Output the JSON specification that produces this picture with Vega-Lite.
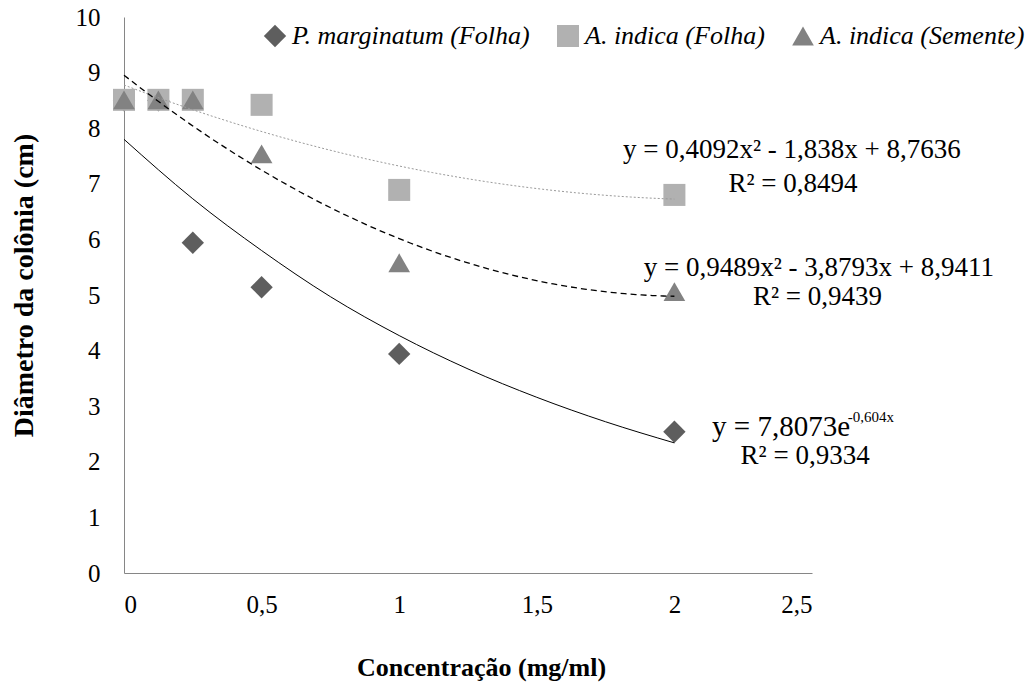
{
  "$schema": "https://vega.github.io/schema/vega-lite/v6.json",
  "autosize": {"type": "none"},
  "width": 688,
  "height": 556,
  "padding": {"left": 124, "top": 17, "right": 219, "bottom": 113},
  "background": "white",
  "config": {
    "view": {"stroke": null},
    "font": "Times New Roman",
    "axis": {
      "grid": false,
      "ticks": false,
      "domainColor": "#868686",
      "domainWidth": 1,
      "labelFont": "Times New Roman",
      "labelFontSize": 25,
      "labelColor": "#000000",
      "titleFont": "Times New Roman",
      "titleFontWeight": "bold",
      "titleColor": "#000000"
    },
    "legend": {
      "labelFont": "Times New Roman"
    }
  },
  "datasets": {
    "pts": [
      {"series": "P. marginatum (Folha)", "x": 0, "y": 8.5},
      {"series": "P. marginatum (Folha)", "x": 0.125, "y": 8.5},
      {"series": "P. marginatum (Folha)", "x": 0.25, "y": 5.94},
      {"series": "P. marginatum (Folha)", "x": 0.5, "y": 5.14},
      {"series": "P. marginatum (Folha)", "x": 1, "y": 3.94},
      {"series": "P. marginatum (Folha)", "x": 2, "y": 2.54},
      {"series": "A. indica (Folha)", "x": 0, "y": 8.51},
      {"series": "A. indica (Folha)", "x": 0.125, "y": 8.51},
      {"series": "A. indica (Folha)", "x": 0.25, "y": 8.51},
      {"series": "A. indica (Folha)", "x": 0.5, "y": 8.42},
      {"series": "A. indica (Folha)", "x": 1, "y": 6.89},
      {"series": "A. indica (Folha)", "x": 2, "y": 6.8},
      {"series": "A. indica (Semente)", "x": 0, "y": 8.51},
      {"series": "A. indica (Semente)", "x": 0.125, "y": 8.51},
      {"series": "A. indica (Semente)", "x": 0.25, "y": 8.51},
      {"series": "A. indica (Semente)", "x": 0.5, "y": 7.54},
      {"series": "A. indica (Semente)", "x": 1, "y": 5.58},
      {"series": "A. indica (Semente)", "x": 2, "y": 5.06}
    ],
    "expTrend": [
      {"x": 0, "y": 7.8},
      {"x": 0.25, "y": 6.73},
      {"x": 0.5, "y": 5.8},
      {"x": 0.75, "y": 4.97},
      {"x": 1, "y": 4.27},
      {"x": 1.25, "y": 3.67},
      {"x": 1.5, "y": 3.16},
      {"x": 1.75, "y": 2.72},
      {"x": 2, "y": 2.34}
    ],
    "eqs": [
      {"x": 2.427, "y": 7.61, "label": "y = 0,4092x² - 1,838x + 8,7636"},
      {"x": 2.431, "y": 7.0, "label": "R² = 0,8494"},
      {"x": 2.525, "y": 5.48, "label": "y = 0,9489x² - 3,8793x + 8,9411"},
      {"x": 2.52, "y": 4.97, "label": "R² = 0,9439"},
      {"x": 2.475, "y": 2.1, "label": "R² = 0,9334"}
    ],
    "eqLeft": [
      {"x": 2.137, "y": 2.62, "label": "y = 7,8073e"}
    ],
    "eqSup": [
      {"x": 2.63, "y": 2.8, "label": "-0,604x"}
    ]
  },
  "layer": [
    {
      "data": {"name": "pts"},
      "mark": {"type": "point", "filled": true, "opacity": 1},
      "encoding": {
        "x": {
          "field": "x", "type": "quantitative",
          "scale": {"domain": [0, 2.5], "nice": false, "zero": true},
          "axis": {
            "title": "Concentração (mg/ml)",
            "titleFontSize": 26,
            "titleX": 357,
            "labelFont": "Times New Roman",
            "titleFont": "Times New Roman",
            "values": [0, 0.5, 1, 1.5, 2, 2.5],
            "labelExpr": "replace(format(datum.value, '~g'), '.', ',')",
            "labelPadding": 19,
            "titlePadding": 37
          }
        },
        "y": {
          "field": "y", "type": "quantitative",
          "scale": {"domain": [0, 10], "nice": false},
          "axis": {
            "title": "Diâmetro da colônia (cm)",
            "titleFontSize": 28,
            "titleY": 268,
            "labelFont": "Times New Roman",
            "titleFont": "Times New Roman",
            "values": [0, 1, 2, 3, 4, 5, 6, 7, 8, 9, 10],
            "labelPadding": 24,
            "titlePadding": 37
          }
        },
        "color": {
          "field": "series", "type": "nominal",
          "scale": {
            "domain": ["P. marginatum (Folha)", "A. indica (Folha)", "A. indica (Semente)"],
            "range": ["#5e5e5e", "#b1b1b1", "#828282"]
          },
          "legend": {
            "title": null,
            "orient": "none",
            "direction": "horizontal",
            "legendX": 138,
            "legendY": 6,
            "symbolSize": 170,
            "symbolStrokeWidth": 0,
            "labelFont": "Times New Roman",
            "labelFontStyle": "italic",
            "labelFontSize": 26,
            "labelColor": "#000000",
            "labelLimit": 400,
            "labelOffset": 4,
            "columnPadding": 25
          }
        },
        "shape": {
          "field": "series", "type": "nominal",
          "scale": {
            "domain": ["P. marginatum (Folha)", "A. indica (Folha)", "A. indica (Semente)"],
            "range": ["diamond", "square", "triangle-up"]
          },
          "legend": null
        },
        "size": {
          "field": "series", "type": "nominal",
          "scale": {
            "domain": ["P. marginatum (Folha)", "A. indica (Folha)", "A. indica (Semente)"],
            "range": [500, 470, 600]
          },
          "legend": null
        }
      }
    },
    {
      "data": {"name": "pts"},
      "transform": [
        {"filter": "datum.series === 'A. indica (Folha)'"},
        {"regression": "y", "on": "x", "method": "poly", "order": 2, "extent": [0, 2]}
      ],
      "mark": {"type": "line", "color": "#9a9a9a", "strokeWidth": 1, "strokeDash": [2, 2]},
      "encoding": {
        "x": {"field": "x", "type": "quantitative"},
        "y": {"field": "y", "type": "quantitative"}
      }
    },
    {
      "data": {"name": "pts"},
      "transform": [
        {"filter": "datum.series === 'A. indica (Semente)'"},
        {"regression": "y", "on": "x", "method": "poly", "order": 2, "extent": [0, 2]}
      ],
      "mark": {"type": "line", "color": "#000000", "strokeWidth": 1.3, "strokeDash": [6, 4]},
      "encoding": {
        "x": {"field": "x", "type": "quantitative"},
        "y": {"field": "y", "type": "quantitative"}
      }
    },
    {
      "data": {"name": "expTrend"},
      "mark": {"type": "line", "color": "#000000", "strokeWidth": 1, "interpolate": "monotone"},
      "encoding": {
        "x": {"field": "x", "type": "quantitative"},
        "y": {"field": "y", "type": "quantitative"}
      }
    },
    {
      "data": {"name": "eqs"},
      "mark": {"type": "text", "font": "Times New Roman", "fontSize": 27, "align": "center", "baseline": "middle", "color": "#000000"},
      "encoding": {
        "x": {"field": "x", "type": "quantitative"},
        "y": {"field": "y", "type": "quantitative"},
        "text": {"field": "label"}
      }
    },
    {
      "data": {"name": "eqLeft"},
      "mark": {"type": "text", "font": "Times New Roman", "fontSize": 29, "align": "left", "baseline": "middle", "color": "#000000"},
      "encoding": {
        "x": {"field": "x", "type": "quantitative"},
        "y": {"field": "y", "type": "quantitative"},
        "text": {"field": "label"}
      }
    },
    {
      "data": {"name": "eqSup"},
      "mark": {"type": "text", "font": "Times New Roman", "fontSize": 15, "align": "left", "baseline": "middle", "color": "#000000"},
      "encoding": {
        "x": {"field": "x", "type": "quantitative"},
        "y": {"field": "y", "type": "quantitative"},
        "text": {"field": "label"}
      }
    }
  ]
}
